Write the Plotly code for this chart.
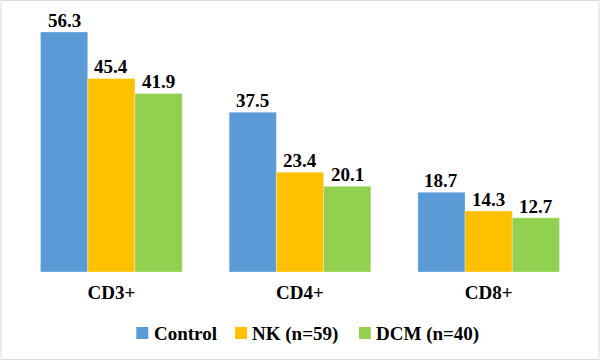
import plotly.graph_objects as go

categories = ["CD3+", "CD4+", "CD8+"]
series_names = ["Control", "NK (n=59)", "DCM (n=40)"]
control = [56.3, 37.5, 18.7]
nk = [45.4, 23.4, 14.3]
dcm = [41.9, 20.1, 12.7]
colors = ["#5B9BD5", "#FFC000", "#92D050"]

FONT = "'Liberation Serif', 'Times New Roman', serif"
FS = 19

W, H = 600, 360
L, R, T, B = 16.5, 16.5, 10, 88
pw, ph = W - L - R, H - T - B
bargap = 0.249
cat_px = pw / len(categories)
bar_px = cat_px * (1 - bargap) / 3


def px_x(x):
    return (x - L) / pw


def px_y(y):
    return (T + ph - y) / ph


fig = go.Figure()
annotations = []
for i, (name, vals, c) in enumerate(zip(series_names, [control, nk, dcm], colors)):
    fig.add_trace(go.Bar(
        x=categories, y=vals, name=name,
        marker=dict(color=c, line=dict(color="rgba(255,255,255,0.6)", width=0.5)),
        showlegend=False, hoverinfo="x+y+name",
    ))
    for cat, v in zip(categories, vals):
        annotations.append(dict(x=cat, y=v, xref="x", yref="y", showarrow=False,
                                xshift=(i - 1) * bar_px, yshift=11.5, yanchor="middle",
                                text=f"<b>{v:.1f}</b>",
                                font=dict(family=FONT, size=FS, color="black")))

# legend (square swatch + label), laid out like the original
legend_sq_x = [136, 235, 359]
legend_txt_x = [152, 250, 374]
legend_y = 333
shapes = [dict(type="rect", xref="paper", yref="paper",
               x0=px_x(0.5), x1=px_x(W - 0.5), y0=px_y(H - 0.5), y1=px_y(0.5),
               line=dict(color="#D9D9D9", width=1), fillcolor="rgba(0,0,0,0)", layer="below")]
for name, c, sx, tx in zip(series_names, colors, legend_sq_x, legend_txt_x):
    shapes.append(dict(type="rect", xref="paper", yref="paper",
                       x0=px_x(sx), x1=px_x(sx + 12), y0=px_y(legend_y + 6), y1=px_y(legend_y - 6),
                       line=dict(width=0), fillcolor=c))
    annotations.append(dict(xref="paper", yref="paper", x=px_x(tx), y=px_y(legend_y + 0.5),
                            xanchor="left", yanchor="middle", showarrow=False, text=f"<b>{name}</b>",
                            font=dict(family=FONT, size=FS, color="black")))

fig.update_layout(
    width=W, height=H,
    margin=dict(l=L, r=R, t=T, b=B, pad=0),
    barmode="group", bargap=bargap, bargroupgap=0,
    paper_bgcolor="white", plot_bgcolor="white",
    font=dict(family=FONT, size=FS, color="black"),
    xaxis=dict(showline=False, ticks="", tickfont=dict(family=FONT, size=FS, color="black"),
               tickvals=categories, ticktext=[f"<b>{c}</b>" for c in categories],
               ticklabelstandoff=7),
    yaxis=dict(visible=False, range=[0, ph / 4.263], showgrid=False, zeroline=False),
    showlegend=False,
    shapes=shapes,
    annotations=annotations,
)

fig.write_html("out.html", config={"displayModeBar": False},
               post_script="document.body.style.margin='0';")
